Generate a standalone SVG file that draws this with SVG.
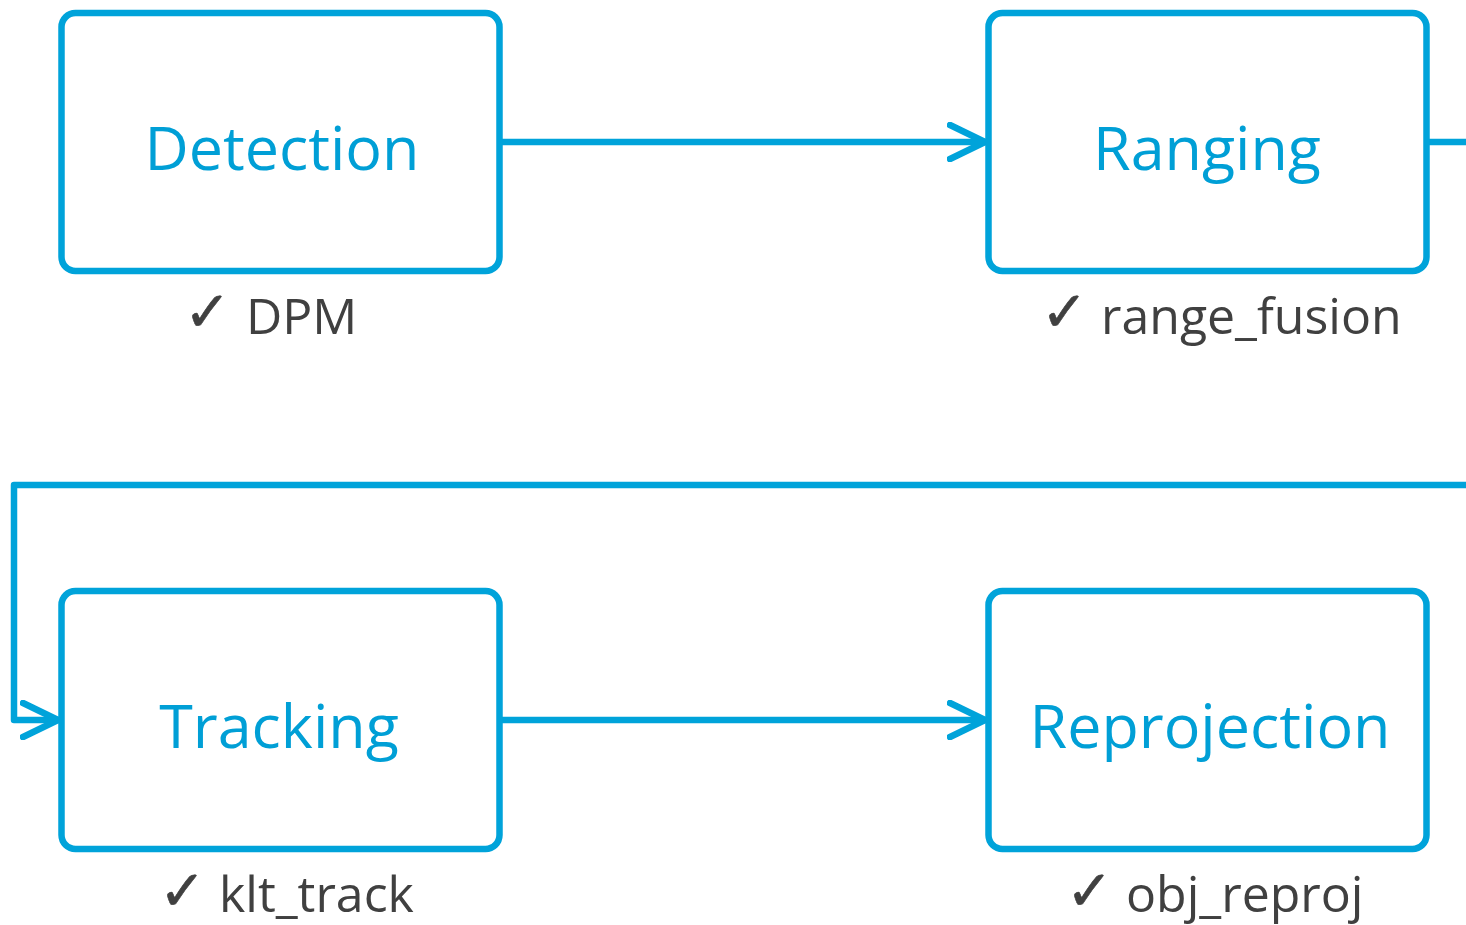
<svg xmlns="http://www.w3.org/2000/svg" width="1466" height="925" viewBox="0 0 1466 925">
  <defs>
    <style>
      .box { fill: #ffffff; stroke: #00A3DA; stroke-width: 6.5; }
      .wire { fill: none; stroke: #00A3DA; stroke-width: 6.5; stroke-linecap: round; stroke-linejoin: round; }
      .title { font-family: "Open Sans", "Noto Sans", "DejaVu Sans", sans-serif; font-size: 61px; fill: #009FD6; text-anchor: middle; }
      .tick { font-family: "DejaVu Sans", sans-serif; font-size: 56px; fill: #404040; stroke: #404040; stroke-width: 0.6; }
      .tool { font-family: "Open Sans", "Noto Sans", "DejaVu Sans", sans-serif; font-size: 50px; fill: #404040; }
    </style>
    <marker id="chev" viewBox="0 0 40 40" refX="38" refY="20" markerWidth="40" markerHeight="40" markerUnits="userSpaceOnUse" orient="auto">
      <path d="M3,3 L38,20 L3,37" fill="none" stroke="#00A3DA" stroke-width="6.5" stroke-linecap="round" stroke-linejoin="round"/>
    </marker>
  </defs>

  <g id="connectors">
    <path class="wire" d="M500,142 H985" marker-end="url(#chev)"/>
    <path class="wire" d="M1427,142 H1470"/>
    <path class="wire" d="M1470,485 H14 V720 H58" marker-end="url(#chev)"/>
    <path class="wire" d="M500,720 H985" marker-end="url(#chev)"/>
  </g>

  <g id="detection">
    <rect class="box" x="61.5" y="13" width="438" height="258" rx="14"/>
    <text class="title" x="282" y="170">Detection</text>
    <text class="tick" x="184" y="331">✓</text>
    <text class="tool" x="246" y="334">DPM</text>
  </g>

  <g id="ranging">
    <rect class="box" x="988.5" y="13" width="438" height="258" rx="14"/>
    <text class="title" x="1207" y="170">Ranging</text>
    <text class="tick" x="1041" y="331">✓</text>
    <text class="tool" x="1101" y="334">range_fusion</text>
  </g>

  <g id="tracking">
    <rect class="box" x="61.5" y="591" width="438" height="258" rx="14"/>
    <text class="title" x="279" y="748">Tracking</text>
    <text class="tick" x="159" y="910">✓</text>
    <text class="tool" x="219" y="912">klt_track</text>
  </g>

  <g id="reprojection">
    <rect class="box" x="988.5" y="591" width="438" height="258" rx="14"/>
    <text class="title" x="1210" y="748">Reprojection</text>
    <text class="tick" x="1066" y="910">✓</text>
    <text class="tool" x="1126" y="912">obj_reproj</text>
  </g>
</svg>
